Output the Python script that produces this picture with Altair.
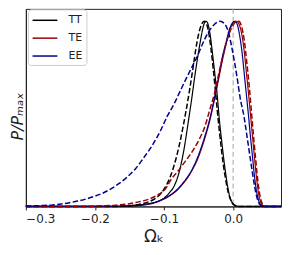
import altair as alt
import pandas as pd

# ---- data (x = Omega_k, y = P/Pmax) ----
tt_solid_x = [-0.300, -0.160, -0.140, -0.125, -0.112, -0.100, -0.092, -0.086, -0.081, -0.0765,
              -0.072, -0.068, -0.064, -0.060, -0.056, -0.052, -0.048, -0.044, -0.041, -0.039,
              -0.036, -0.033, -0.030, -0.026, -0.023, -0.020, -0.0165, -0.012, -0.008, -0.005,
              -0.002, 0.002, 0.006, 0.010, 0.0693]
tt_solid_y = [0.0, 0.0, 0.004, 0.010, 0.022, 0.045, 0.075, 0.106, 0.15, 0.21,
              0.29, 0.38, 0.48, 0.58, 0.69, 0.79, 0.88, 0.96, 0.995, 1.0,
              0.98, 0.92, 0.83, 0.70, 0.60, 0.47, 0.35, 0.21, 0.11, 0.055,
              0.025, 0.008, 0.002, 0.0, 0.0]

tt_dash_x = [-0.300, -0.170, -0.150, -0.135, -0.122, -0.112, -0.104, -0.098, -0.091, -0.084,
             -0.078, -0.073, -0.068, -0.063, -0.058, -0.054, -0.050, -0.046, -0.042, -0.038,
             -0.035, -0.032, -0.029, -0.026, -0.023, -0.020, -0.017, -0.014, -0.011, -0.008,
             -0.005, -0.002, 0.002, 0.006, 0.0693]
tt_dash_y = [0.0, 0.0, 0.004, 0.012, 0.025, 0.045, 0.072, 0.105, 0.16, 0.24,
             0.33, 0.42, 0.52, 0.63, 0.75, 0.85, 0.93, 0.98, 1.0, 0.98,
             0.93, 0.85, 0.75, 0.64, 0.52, 0.41, 0.31, 0.22, 0.15, 0.09,
             0.05, 0.022, 0.007, 0.0, 0.0]

te_solid_x = [-0.300, -0.180, -0.150, -0.130, -0.115, -0.105, -0.095, -0.086, -0.079, -0.072,
              -0.065, -0.058, -0.052, -0.046, -0.040, -0.034, -0.028, -0.022, -0.016, -0.010,
              -0.004, 0.001, 0.005, 0.009, 0.013, 0.016, 0.019, 0.022, 0.025, 0.028,
              0.031, 0.034, 0.037, 0.040, 0.043, 0.046, 0.0693]
te_solid_y = [0.0, 0.0, 0.004, 0.010, 0.020, 0.032, 0.050, 0.072, 0.095, 0.125,
              0.16, 0.205, 0.25, 0.31, 0.38, 0.46, 0.56, 0.67, 0.78, 0.88,
              0.96, 0.995, 1.0, 0.98, 0.92, 0.84, 0.73, 0.62, 0.50, 0.38,
              0.26, 0.15, 0.065, 0.022, 0.005, 0.0, 0.0]

te_dash_x = [-0.300, -0.210, -0.190, -0.170, -0.150, -0.135, -0.120, -0.108, -0.098, -0.089,
             -0.080, -0.072, -0.064, -0.056, -0.048, -0.041, -0.034, -0.027, -0.020, -0.013,
             -0.006, 0.000, 0.005, 0.008, 0.012, 0.016, 0.020, 0.024, 0.027, 0.030,
             0.033, 0.036, 0.039, 0.042, 0.045, 0.048, 0.0693]
te_dash_y = [0.0, 0.0, 0.003, 0.007, 0.015, 0.026, 0.042, 0.065, 0.095, 0.15,
             0.19, 0.23, 0.27, 0.315, 0.37, 0.43, 0.52, 0.61, 0.73, 0.84,
             0.93, 0.98, 0.998, 1.0, 0.975, 0.90, 0.77, 0.62, 0.49, 0.36,
             0.24, 0.13, 0.055, 0.015, 0.002, 0.0, 0.0]

ee_solid_x = [-0.300, -0.180, -0.150, -0.130, -0.115, -0.105, -0.095, -0.086, -0.079, -0.072,
              -0.065, -0.058, -0.052, -0.046, -0.040, -0.034, -0.028, -0.022, -0.016, -0.010,
              -0.005, 0.000, 0.003, 0.007, 0.010, 0.013, 0.016, 0.019, 0.022, 0.025,
              0.028, 0.031, 0.034, 0.037, 0.040, 0.043, 0.0693]
ee_solid_y = [0.0, 0.0, 0.004, 0.011, 0.021, 0.034, 0.052, 0.075, 0.099, 0.13,
              0.165, 0.21, 0.26, 0.32, 0.39, 0.47, 0.57, 0.68, 0.80, 0.89,
              0.96, 0.995, 1.0, 0.97, 0.91, 0.83, 0.72, 0.61, 0.50, 0.38,
              0.27, 0.16, 0.08, 0.03, 0.008, 0.0, 0.0]

ee_dash_x = [-0.300, -0.290, -0.275, -0.261, -0.249, -0.237, -0.225, -0.213, -0.201, -0.189,
             -0.177, -0.165, -0.153, -0.141, -0.130, -0.117, -0.105, -0.095, -0.086, -0.077,
             -0.068, -0.060, -0.052, -0.044, -0.036, -0.028, -0.019, -0.012, -0.006, -0.002,
             0.002, 0.006, 0.010, 0.016, 0.020, 0.024, 0.028, 0.031, 0.034, 0.037,
             0.040, 0.043, 0.0693]
ee_dash_y = [0.002, 0.003, 0.005, 0.008, 0.013, 0.020, 0.029, 0.040, 0.054, 0.071,
             0.095, 0.124, 0.16, 0.205, 0.26, 0.33, 0.41, 0.49, 0.55, 0.62,
             0.69, 0.75, 0.81, 0.88, 0.94, 0.98, 1.0, 0.985, 0.93, 0.86,
             0.78, 0.69, 0.59, 0.48, 0.38, 0.28, 0.18, 0.11, 0.055, 0.02,
             0.005, 0.0, 0.0]

spectra = ["TT", "TE", "EE"]
colors = ["#000000", "#9b0000", "#00008b"]
x_ticks = [-0.3, -0.2, -0.1, 0.0]
zero_line = [0.0]

curves = [
    ("TT", "solid", tt_solid_x, tt_solid_y),
    ("TE", "solid", te_solid_x, te_solid_y),
    ("EE", "solid", ee_solid_x, ee_solid_y),
    ("TT", "dashed", tt_dash_x, tt_dash_y),
    ("TE", "dashed", te_dash_x, te_dash_y),
    ("EE", "dashed", ee_dash_x, ee_dash_y),
]
rows = []
for order, (spec, style, xs, ys) in enumerate(curves):
    for x, y in zip(xs, ys):
        rows.append({"x": x, "y": y, "spec": spec, "style": style,
                     "curve": f"{spec}-{style}", "o": order})
df = pd.DataFrame(rows)

xscale = alt.Scale(domain=[-0.3, 0.0693], nice=False, zero=False)
yscale = alt.Scale(domain=[0, 1.067], nice=False, zero=False)

xaxis = alt.Axis(values=x_ticks, format=".1f", title="Ωₖ", grid=False,
                 labelFontSize=12, labelPadding=3.5, tickSize=3.5,
                 titleFontSize=17, titleFontWeight="normal", titlePadding=4)
yaxis = alt.Axis(labels=False, ticks=False, grid=False, title="P/Pₘₐₓ",
                 titleFontSize=16, titleFontWeight="normal", titleFontStyle="italic",
                 titlePadding=0, titleY=108)

rule = alt.Chart(pd.DataFrame({"x": zero_line})).mark_rule(
    color="#aaaaaa", strokeDash=[5, 3], strokeWidth=1.1
).encode(x=alt.X("x:Q", scale=xscale, axis=xaxis))

lines = alt.Chart(df).mark_line(interpolate="monotone").encode(
    x=alt.X("x:Q", scale=xscale, axis=xaxis),
    y=alt.Y("y:Q", scale=yscale, axis=yaxis),
    color=alt.Color("spec:N", scale=alt.Scale(domain=spectra, range=colors),
                    legend=alt.Legend(title=None, orient="none", legendX=2, legendY=0.5)),
    strokeDash=alt.StrokeDash("style:N", scale=alt.Scale(domain=["solid", "dashed"],
                              range=[[1, 0], [5.5, 2.4]]), legend=None),
    strokeWidth=alt.StrokeWidth("style:N", scale=alt.Scale(domain=["solid", "dashed"],
                                range=[1.2, 1.5]), legend=None),
    detail="curve:N",
    order="o:Q",
)

chart = alt.layer(rule, lines).properties(
    width=257, height=199,
    autosize=alt.AutoSizeParams(type="none"),
    padding={"left": 18, "top": 0, "right": 2, "bottom": 42},
).configure_view(stroke="#222222", strokeWidth=1).configure_axis(
    domainColor="#222222", tickColor="#222222", labelColor="#222222",
    titleColor="#222222", labelFont="DejaVu Sans", titleFont="DejaVu Sans",
).configure_legend(
    symbolType="M-1,0H3", symbolSize=156.25, symbolStrokeWidth=1.5,
    symbolFillColor="transparent",
    labelFontSize=11, labelFont="DejaVu Sans", labelColor="#222222",
    strokeColor="#cccccc", fillColor="rgba(255,255,255,0.85)", cornerRadius=3,
    padding=4, rowPadding=6, labelOffset=23,
)

chart.save("out.html", embed_options={"renderer": "svg", "actions": False})
